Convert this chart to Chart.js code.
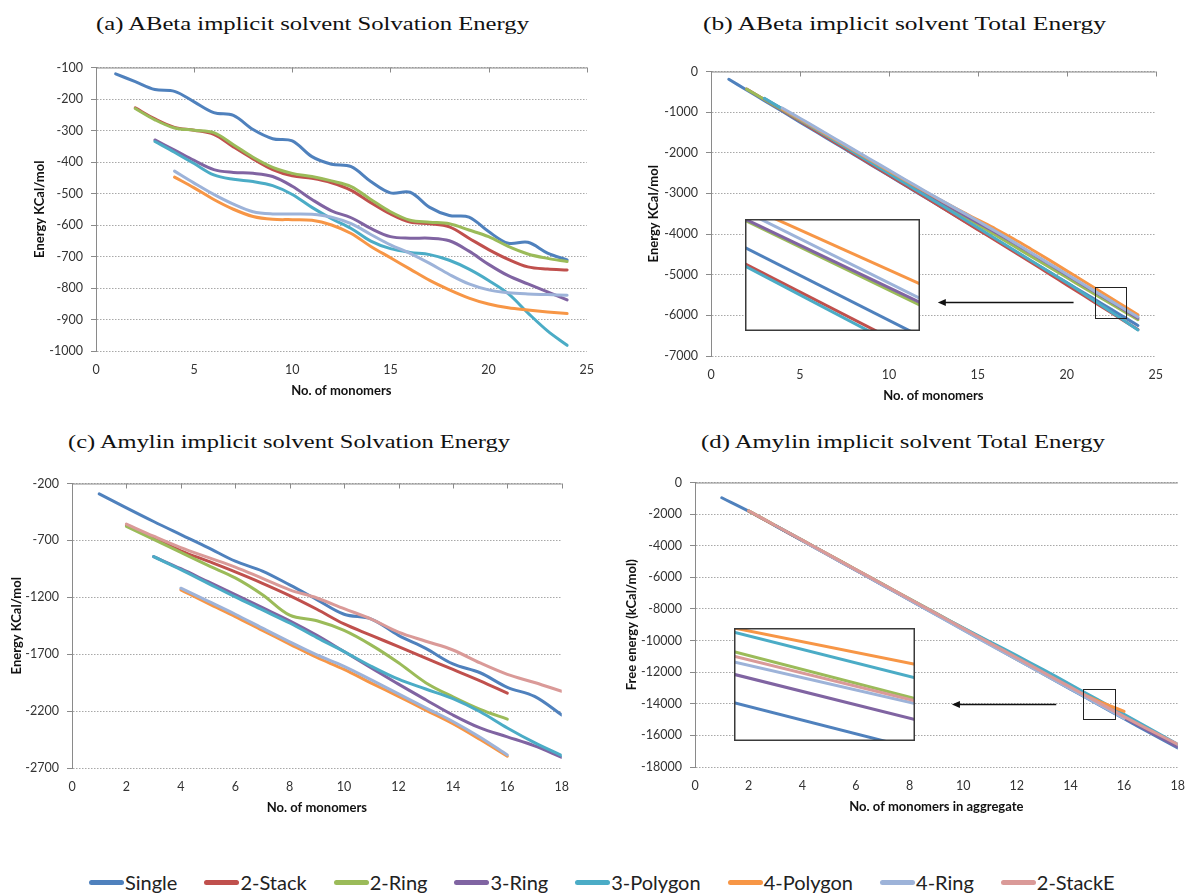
<!DOCTYPE html>
<html>
<head>
<meta charset="utf-8">
<script src="https://cdn.jsdelivr.net/npm/chart.js@4.4.1/dist/chart.umd.min.js"></script>
<style>
  html, body { margin:0; padding:0; background:#fff; }
  body { width:1190px; height:894px; position:relative; overflow:hidden; }
  .title { position:absolute; font-family:"Liberation Serif", "Times New Roman", serif; font-size:18px; line-height:22px; color:#111; white-space:nowrap; transform-origin:0 50%; }
  #legend { position:absolute; left:89px; top:872px; height:20px; display:flex; align-items:center; gap:27px; }
  .li { display:flex; align-items:center; }
  .sw { width:35px; height:5px; border-radius:2.5px; margin-right:1px; }
  .lt { font-family:Lato, "Liberation Sans", sans-serif; font-size:20px; color:#222; line-height:20px; }
  canvas { position:absolute; }
</style>
</head>
<body>
<div class="title" data-l="96" data-w="433" data-cy="24">(a) ABeta implicit solvent Solvation Energy</div>
<div class="title" data-l="703" data-w="403" data-cy="24">(b) ABeta implicit solvent Total Energy</div>
<div class="title" data-l="68" data-w="442" data-cy="442">(c) Amylin implicit solvent Solvation Energy</div>
<div class="title" data-l="701" data-w="404" data-cy="442">(d) Amylin implicit solvent Total Energy</div>
<div id="legend"></div>
<script>
// ---------------- data ----------------
const seriesNames  = ['Single','2-Stack','2-Ring','3-Ring','3-Polygon','4-Polygon','4-Ring','2-StackE'];
const seriesColors = ['#4F81BD','#C0504D','#9BBB59','#8064A2','#4BACC6','#F79646','#9DB3D9','#DA9A98'];

const monomersAB = [1,2,3,4,5,6,7,8,9,10,11,12,13,14,15,16,17,18,19,20,21,22,23,24];
const monomersCD = [1,2,3,4,5,6,7,8,9,10,11,12,13,14,15,16,17,18];

const xTicksAB = [0,5,10,15,20,25];
const xTicksCD = [0,2,4,6,8,10,12,14,16,18];
const yTicksA = [-1000,-900,-800,-700,-600,-500,-400,-300,-200,-100];
const yTicksB = [-7000,-6000,-5000,-4000,-3000,-2000,-1000,0];
const yTicksC = [-2700,-2200,-1700,-1200,-700,-200];
const yTicksD = [-18000,-16000,-14000,-12000,-10000,-8000,-6000,-4000,-2000,0];

// (a) ABeta solvation energy
const aSingle   = [-120,-145,-170,-176,-209,-243,-252,-297,-326,-333,-383,-407,-415,-462,-498,-496,-544,-570,-575,-621,-658,-655,-689,-711];
const a2Stack   = [null,-228,-263,-290,-299,-312,-352,-390,-424,-444,-452,-466,-490,-529,-565,-591,-596,-606,-642,-678,-709,-733,-740,-743];
const a2Ring    = [null,-230,-266,-292,-299,-307,-345,-385,-417,-436,-446,-460,-478,-519,-558,-585,-591,-596,-616,-637,-668,-692,-706,-716];
const a3Ring    = [null,null,-330,-362,-395,-424,-433,-436,-446,-477,-519,-555,-577,-611,-637,-642,-642,-650,-683,-725,-761,-787,-812,-838];
const a3Polygon = [null,null,-335,-369,-405,-441,-455,-462,-475,-503,-544,-580,-611,-651,-675,-687,-694,-712,-740,-776,-818,-879,-936,-982];
const a4Polygon = [null,null,null,-448,-482,-519,-550,-573,-582,-583,-585,-600,-627,-668,-704,-740,-776,-806,-832,-851,-863,-870,-876,-881];
const a4Ring    = [null,null,null,-429,-467,-503,-534,-558,-565,-565,-566,-575,-596,-630,-663,-690,-722,-757,-787,-806,-815,-819,-821,-823];

// (b) ABeta total energy
const bSingle   = [-192,-455,-718,-980,-1245,-1508,-1770,-2035,-2298,-2560,-2825,-3088,-3350,-3615,-3878,-4140,-4405,-4668,-4930,-5195,-5458,-5720,-5985,-6250];
const b2Stack   = [null,-430,-690,-955,-1220,-1485,-1750,-2015,-2285,-2550,-2815,-3080,-3350,-3620,-3890,-4160,-4430,-4700,-4975,-5250,-5525,-5800,-6075,-6350];
const b2Ring    = [null,-433,-688,-942,-1197,-1452,-1710,-1968,-2228,-2488,-2745,-3000,-3258,-3515,-3770,-4028,-4288,-4550,-4810,-5070,-5330,-5590,-5848,-6105];
const b3Ring    = [null,null,-665,-920,-1177,-1433,-1690,-1950,-2210,-2470,-2725,-2978,-3228,-3475,-3718,-3960,-4212,-4472,-4738,-5005,-5270,-5535,-5800,-6068];
const b3Polygon = [null,null,-657,-920,-1185,-1450,-1715,-1980,-2245,-2510,-2775,-3040,-3305,-3575,-3845,-4115,-4385,-4655,-4925,-5198,-5478,-5768,-6062,-6360];
const b4Polygon = [null,null,null,-920,-1172,-1425,-1680,-1935,-2190,-2445,-2698,-2948,-3190,-3425,-3650,-3875,-4115,-4372,-4635,-4905,-5175,-5445,-5715,-5985];
const b4Ring    = [null,null,null,-897,-1150,-1405,-1660,-1915,-2170,-2425,-2680,-2933,-3183,-3430,-3678,-3932,-4192,-4458,-4722,-4988,-5253,-5518,-5782,-6040];

// (c) Amylin solvation energy
const cSingle   = [-291,-414,-534,-649,-763,-883,-969,-1091,-1220,-1349,-1391,-1534,-1649,-1786,-1863,-1991,-2071,-2234];
const c2Stack   = [null,-563,-677,-791,-883,-977,-1077,-1185,-1305,-1434,-1534,-1634,-1734,-1834,-1934,-2043,null,null];
const c2Ring    = [null,-577,-691,-806,-920,-1029,-1177,-1357,-1406,-1491,-1620,-1775,-1950,-2075,-2185,-2271,null,null];
const c3Ring    = [null,null,-843,-949,-1063,-1177,-1291,-1406,-1534,-1677,-1820,-1963,-2100,-2234,-2348,-2426,-2506,-2606];
const c3Polygon = [null,null,-843,-957,-1077,-1197,-1311,-1426,-1554,-1677,-1806,-1920,-2006,-2091,-2206,-2348,-2477,-2591];
const c4Polygon = [null,null,null,-1134,-1254,-1369,-1491,-1611,-1729,-1834,-1954,-2071,-2191,-2311,-2450,-2597,null,null];
const c4Ring    = [null,null,null,-1120,-1234,-1349,-1471,-1591,-1706,-1806,-1926,-2048,-2171,-2291,-2430,-2585,null,null];
const c2StackE  = [null,-557,-663,-763,-849,-934,-1034,-1134,-1206,-1300,-1391,-1506,-1586,-1663,-1777,-1877,-1949,-2026];

// (d) Amylin total energy
const dSingle   = [-965,-1810,-2745,-3680,-4615,-5550,-6490,-7430,-8370,-9310,-10250,-11190,-12130,-13070,-14010,-14950,-15880,-16800];
const d2Stack   = [null,-1805,-2735,-3668,-4600,-5535,-6468,-7400,-8330,-9262,-10195,-11125,-12055,-12985,-13915,-14845,null,null];
const d2Ring    = [null,-1795,-2720,-3648,-4578,-5505,-6432,-7358,-8282,-9205,-10128,-11050,-11975,-12900,-13825,-14750,null,null];
const d3Ring    = [null,null,-2738,-3672,-4606,-5540,-6475,-7410,-8345,-9280,-10215,-11150,-12085,-13020,-13952,-14885,-15805,-16725];
const d3Polygon = [null,null,-2728,-3658,-4588,-5518,-6448,-7378,-8295,-9190,-10075,-10955,-11855,-12785,-13725,-14672,-15612,-16565];
const d4Polygon = [null,null,null,-3662,-4592,-5522,-6455,-7392,-8335,-9285,-10235,-11175,-12105,-13025,-13800,-14480,null,null];
const d4Ring    = [null,null,null,-3682,-4617,-5552,-6490,-7430,-8378,-9328,-10270,-11202,-12132,-13062,-13992,-14922,null,null];
const d2StackE  = [null,-1790,-2720,-3650,-4580,-5510,-6440,-7370,-8300,-9230,-10160,-11090,-12020,-12950,-13880,-14810,-15700,-16570];

// magnified insets: line heights (fraction of inset height from top) at inset left and right edges
const insetBSeries = [0, 1, 2, 3, 4, 5, 6];
const insetBLeft   = [0.255, 0.40, 0.012, 0.0, 0.42, -0.123, -0.068];
const insetBRight  = [1.045, 1.20, 0.77, 0.745, 1.24, 0.58, 0.71];
const insetDSeries = [0, 2, 3, 4, 5, 6, 7];
const insetDLeft   = [0.66, 0.21, 0.41, 0.038, 0.0, 0.30, 0.25];
const insetDRight  = [1.07, 0.624, 0.81, 0.44, 0.32, 0.668, 0.645];

// ---------------- helpers ----------------
Chart.defaults.font.family = 'Lato, "Liberation Sans", sans-serif';

function pts(xs, ys) {
  const out = [];
  xs.forEach((x, i) => { if (ys[i] !== null && ys[i] !== undefined) out.push({x: x, y: ys[i]}); });
  return out;
}
function makeDatasets(xs, list) {
  return list.map(([si, ys], k) => ({
    label: seriesNames[si], data: pts(xs, ys),
    borderColor: seriesColors[si], backgroundColor: seriesColors[si],
    borderWidth: 3, pointRadius: 0, tension: 0.35, fill: false,
    borderCapStyle: 'round', borderJoinStyle: 'round',
    order: list.length - k
  }));
}

const AXIS = '#8a8a8a';
const framePlugin = {
  id: 'frame',
  beforeDatasetsDraw(chart, args, o) {
    const {ctx, chartArea: {left, right, top}} = chart;
    const xs = chart.scales.x;
    ctx.save();
    ctx.strokeStyle = AXIS; ctx.lineWidth = 1;
    ctx.beginPath();
    ctx.moveTo(left, top + 0.5); ctx.lineTo(right, top + 0.5);
    if (o.topTicks) {
      xs.ticks.forEach(t => {
        const x = Math.round(xs.getPixelForValue(t.value)) + 0.5;
        ctx.moveTo(x, top); ctx.lineTo(x, top + 5);
      });
    }
    ctx.stroke();
    ctx.restore();
  },
  afterDatasetsDraw(chart, args, o) {
    const {ctx} = chart;
    const xs = chart.scales.x, ys = chart.scales.y;
    ctx.save();
    if (o.rect) {
      const x1 = Math.round(xs.getPixelForValue(o.rect[0])) + 0.5, x2 = Math.round(xs.getPixelForValue(o.rect[1])) + 0.5;
      const y1 = Math.round(ys.getPixelForValue(o.rect[3])) + 0.5, y2 = Math.round(ys.getPixelForValue(o.rect[2])) + 0.5;
      ctx.strokeStyle = '#222'; ctx.lineWidth = 1;
      ctx.strokeRect(x1, y1, x2 - x1, y2 - y1);
    }
    if (o.arrow) {
      const xa = xs.getPixelForValue(o.arrow[0]), xb = xs.getPixelForValue(o.arrow[1]);
      const y = Math.round(ys.getPixelForValue(o.arrow[2])) + 0.5;
      ctx.strokeStyle = '#111'; ctx.fillStyle = '#111'; ctx.lineWidth = 1.3;
      ctx.beginPath(); ctx.moveTo(xa, y); ctx.lineTo(xb + 6, y); ctx.stroke();
      ctx.beginPath(); ctx.moveTo(xb, y); ctx.lineTo(xb + 8, y - 3.5); ctx.lineTo(xb + 8, y + 3.5); ctx.closePath(); ctx.fill();
    }
    ctx.restore();
  }
};

function makePanel(p) {
  const canvasLeft = Math.round(p.yTitleX - 11.8);
  const yw = p.L - canvasLeft;
  const padTop = 8, padRight = 14, xh = 52;
  const cTop = p.T - padTop;
  const W = p.R + padRight - canvasLeft, H = p.B + xh - cTop;
  const cv = document.createElement('canvas');
  cv.width = W; cv.height = H;
  cv.style.left = canvasLeft + 'px'; cv.style.top = cTop + 'px';
  cv.style.width = W + 'px'; cv.style.height = H + 'px';
  document.body.appendChild(cv);
  const chart = new Chart(cv, {
    type: 'line',
    data: { datasets: makeDatasets(p.xs, p.series) },
    plugins: [framePlugin],
    options: {
      responsive: false, animation: false, devicePixelRatio: 1,
      layout: { padding: { top: padTop, right: padRight, left: 0, bottom: 0 } },
      plugins: { legend: { display: false }, tooltip: { enabled: false },
                 frame: { topTicks: p.topTicks, rect: p.rect, arrow: p.arrow } },
      scales: {
        x: {
          type: 'linear', min: p.xTicks[0], max: p.xTicks[p.xTicks.length - 1],
          afterFit: s => { s.height = xh; },
          afterBuildTicks: s => { s.ticks = p.xTicks.map(v => ({value: v})); },
          grid: { display: false, drawTicks: false },
          border: { display: false },
          ticks: { padding: 11, font: { size: 12.5 }, color: '#333', maxRotation: 0, autoSkip: false, callback: v => String(v) },
          title: { display: true, text: p.xTitle, color: '#111', font: { size: 13, weight: 'bold' }, padding: { top: 4, bottom: 4 } }
        },
        y: {
          type: 'linear', min: p.yTicks[0], max: p.yTicks[p.yTicks.length - 1],
          afterFit: s => { s.width = yw; },
          afterBuildTicks: s => { s.ticks = p.yTicks.map(v => ({value: v})); },
          grid: { color: '#a8a8a8', lineWidth: 1, tickLength: 5, tickColor: AXIS, tickWidth: 1 },
          border: { display: true, color: AXIS, width: 1, dash: [1.5, 1.5] },
          ticks: { padding: 8, font: { size: 12.5 }, color: '#333', autoSkip: false, callback: v => String(v) },
          title: { display: true, text: p.yTitle, color: '#111', font: { size: 13, weight: 'bold' }, padding: { top: 4, bottom: 4 } }
        }
      }
    }
  });

  if (p.inset) {
    const xs = chart.scales.x, ys = chart.scales.y;
    const ix1 = Math.round(canvasLeft + xs.getPixelForValue(p.inset.box[0]));
    const ix2 = Math.round(canvasLeft + xs.getPixelForValue(p.inset.box[1]));
    const iy1 = Math.round(cTop + ys.getPixelForValue(p.inset.box[3]));
    const iy2 = Math.round(cTop + ys.getPixelForValue(p.inset.box[2]));
    const iw = ix2 - ix1, ih = iy2 - iy1;
    const ic = document.createElement('canvas');
    ic.width = iw; ic.height = ih;
    ic.style.left = ix1 + 'px'; ic.style.top = iy1 + 'px';
    ic.style.width = iw + 'px'; ic.style.height = ih + 'px';
    document.body.appendChild(ic);
    const order = p.inset.series.map((si, k) => k).sort((a, b) => p.inset.series[a] - p.inset.series[b]);
    new Chart(ic, {
      type: 'line',
      data: { datasets: order.map((k, j) => ({
        data: [{x: 0, y: p.inset.left[k]}, {x: 1, y: p.inset.right[k]}],
        borderColor: seriesColors[p.inset.series[k]], borderWidth: 3, pointRadius: 0,
        tension: 0, clip: 0, order: order.length - j
      })) },
      plugins: [{
        id: 'insetFrame',
        beforeDraw(c) { c.ctx.save(); c.ctx.fillStyle = '#fff'; c.ctx.fillRect(0, 0, c.width, c.height); c.ctx.restore(); },
        afterDraw(c) { c.ctx.save(); c.ctx.strokeStyle = '#3a3a3a'; c.ctx.lineWidth = 1.5; c.ctx.strokeRect(0.75, 0.75, c.width - 1.5, c.height - 1.5); c.ctx.restore(); }
      }],
      options: {
        responsive: false, animation: false, devicePixelRatio: 1,
        layout: { padding: 0 },
        plugins: { legend: { display: false }, tooltip: { enabled: false } },
        scales: {
          x: { type: 'linear', min: 0, max: 1, display: false },
          y: { type: 'linear', min: 0, max: 1, reverse: true, display: false }
        }
      }
    });
  }
  return chart;
}

// ---------------- panels ----------------
makePanel({
  L: 96, R: 591, T: 60, B: 351, yTitleX: 40,
  xs: monomersAB, xTicks: xTicksAB, yTicks: yTicksA, topTicks: true,
  xTitle: 'No. of monomers', yTitle: 'Energy KCal/mol',
  series: [[0,aSingle],[1,a2Stack],[2,a2Ring],[3,a3Ring],[4,a3Polygon],[5,a4Polygon],[6,a4Ring]]
});
makePanel({
  L: 711, R: 1160, T: 64, B: 356, yTitleX: 654,
  xs: monomersAB, xTicks: xTicksAB, yTicks: yTicksB, topTicks: true,
  xTitle: 'No. of monomers', yTitle: 'Energy KCal/mol',
  series: [[0,bSingle],[1,b2Stack],[2,b2Ring],[3,b3Ring],[4,b3Polygon],[5,b4Polygon],[6,b4Ring]],
  rect: [21.6, 23.33, -6059, -5310],
  arrow: [20.38, 12.75, -5677],
  inset: { box: [1.93, 11.73, -6397, -3633], series: insetBSeries, left: insetBLeft, right: insetBRight }
});
makePanel({
  L: 72, R: 566, T: 476, B: 768, yTitleX: 17,
  xs: monomersCD, xTicks: xTicksCD, yTicks: yTicksC, topTicks: true,
  xTitle: 'No. of monomers', yTitle: 'Energy KCal/mol',
  series: [[0,cSingle],[1,c2Stack],[2,c2Ring],[3,c3Ring],[4,c3Polygon],[5,c4Polygon],[6,c4Ring],[7,c2StackE]]
});
makePanel({
  L: 695, R: 1182, T: 475, B: 767, yTitleX: 632,
  xs: monomersCD, xTicks: xTicksCD, yTicks: yTicksD, topTicks: false,
  xTitle: 'No. of monomers in aggregate', yTitle: 'Free energy (kCal/mol)',
  series: [[0,dSingle],[1,d2Stack],[2,d2Ring],[3,d3Ring],[4,d3Polygon],[5,d4Polygon],[6,d4Ring],[7,d2StackE]],
  rect: [14.48, 15.66, -14959, -13034],
  arrow: [13.47, 9.58, -14000],
  inset: { box: [1.47, 8.22, -16356, -9236], series: insetDSeries, left: insetDLeft, right: insetDRight }
});

// ---------------- legend ----------------
const lg = document.getElementById('legend');
seriesNames.forEach((n, i) => {
  const it = document.createElement('div'); it.className = 'li';
  const sw = document.createElement('span'); sw.className = 'sw'; sw.style.background = seriesColors[i];
  const tx = document.createElement('span'); tx.className = 'lt'; tx.textContent = n;
  it.appendChild(sw); it.appendChild(tx); lg.appendChild(it);
});

// ---------------- titles ----------------
document.querySelectorAll('.title').forEach(el => {
  el.style.left = el.dataset.l + 'px';
  el.style.top = (+el.dataset.cy - 11) + 'px';
  const nat = el.getBoundingClientRect().width;
  el.style.transform = 'scaleX(' + (+el.dataset.w / nat).toFixed(4) + ')';
});
</script>
</body>
</html>
